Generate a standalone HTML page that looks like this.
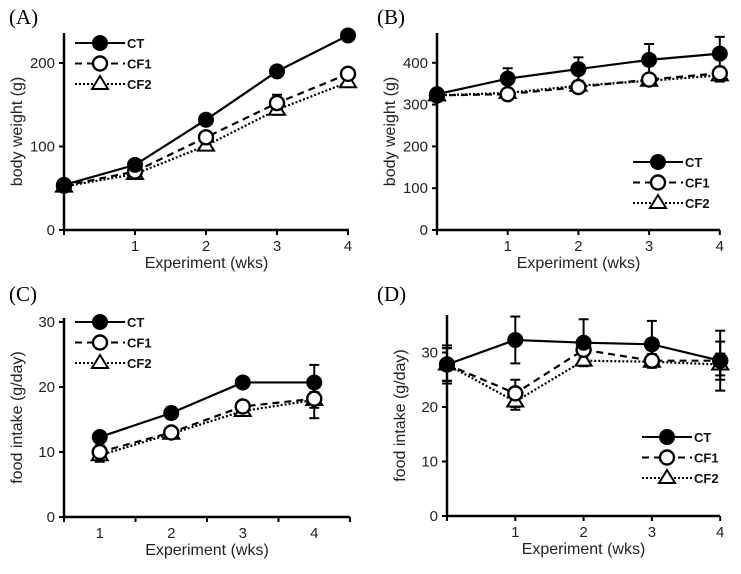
<!DOCTYPE html>
<html><head><meta charset="utf-8"><style>
body{margin:0;background:#fff;width:741px;height:569px;overflow:hidden}
svg{font-family:"Liberation Sans",Arial,sans-serif}
</style></head><body>
<svg id="s" width="741" height="569" xmlns="http://www.w3.org/2000/svg"></svg>
<script>
const seriesNames=["CT","CF1","CF2"];
// Panel A body weight (weeks 0-4)
const aCT=[54,78,132,190,233], aCF1=[53,70,111,152,187], aCF2=[52,67,101,144,177];
const aErrCT=[3,4,5,4,3], aErrCF1=[3,3,6,10,7], aErrCF2=[3,3,5,6,5];
// Panel B body weight
const bCT=[325,362,385,407,422], bCF1=[322,325,342,360,375], bCF2=[322,328,345,357,370];
const bErrCT=[10,25,28,38,40], bErrCF1=[8,10,10,12,15], bErrCF2=[8,10,10,12,15];
// Panel C food intake (weeks 1-4)
const cCT=[12.3,16,20.7,20.7], cCF1=[10,13,17,18.2], cCF2=[9.5,12.8,16.3,18];
const cErrCT=[0.8,0.9,0.6,2.7], cErrCF1=[1,0.8,0.8,3], cErrCF2=[1,0.7,0.6,1.2];
// Panel D food intake (weeks 0-4)
const dCT=[27.8,32.3,31.8,31.5,28.5], dCF1=[27.8,22.5,30.5,28.5,28.5], dCF2=[27.8,21,28.5,28.3,27.8];
const dErrCT=[3.5,4.3,4.3,4.3,5.5], dErrCF1=[3,2.5,1.2,1.2,3.5], dErrCF2=[3,1.5,1,1,2];
const weekLabels=["1","2","3","4"];
const aTicks=[0,100,200], bTicks=[0,100,200,300,400], cTicks=[0,10,20,30], dTicks=[0,10,20,30];

const S=document.getElementById('s');
function el(t,a,txt){const e=document.createElementNS('http://www.w3.org/2000/svg',t);for(const k in a)e.setAttribute(k,a[k]);if(txt!==undefined)e.textContent=txt;S.appendChild(e);return e;}

function panel(p){
  const xs=i=>p.x0+p.xoff*p.step+i*p.step;
  const ys=v=>p.y0-(v-0)*p.k;
  let e;
  e=el('text',{x:p.lx,y:p.ly,'font-family':'Liberation Serif,serif','font-size':21},p.label);
  
  
  e=el('line',{x1:p.x0,y1:p.ytop,x2:p.x0,y2:p.y0,stroke:'#000','stroke-width':2.5});
  
  
  e=el('line',{x1:p.x0,y1:p.y0,x2:p.xend,y2:p.y0,stroke:'#000','stroke-width':2.5});
  
  
  p.ticks.forEach(t=>{
    el('line',{x1:p.x0-5,y1:ys(t),x2:p.x0,y2:ys(t),stroke:'#000','stroke-width':2});
    e=el('text',{x:p.x0-9,y:ys(t)+5,'text-anchor':'end','font-size':15,fill:'#222'},t);
    
    
  });
  for(let i=0;i<=p.nslots;i++){const x=p.x0+i*p.step;el('line',{x1:x,y1:p.y0,x2:x,y2:p.y0+5,stroke:'#000','stroke-width':2});}
  weekLabels.forEach((w,i)=>{
    e=el('text',{x:xs(i+(p.xoff?0:1)),y:p.y0+21,'text-anchor':'middle','font-size':15,fill:'#222'},w);
    
    
  });
  e=el('text',{x:(p.x0+p.xend)/2,y:p.y0+38,'text-anchor':'middle','font-size':16,fill:'#222'},'Experiment (wks)');
  
  
  const cy=(p.ytop+p.y0)/2;
  e=el('text',{x:0,y:0,transform:`translate(${p.x0-42},${cy}) rotate(-90)`,'text-anchor':'middle','font-size':16,fill:'#222'},p.ytitle);
  
  
  const dash=['none','7,5','2,2'];
  p.data.forEach((d,si)=>{d.forEach((v,i)=>{const x=xs(i),er=p.err[si][i];
    el('line',{x1:x,y1:ys(v-er),x2:x,y2:ys(v+er),stroke:'#000','stroke-width':2});
    el('line',{x1:x-5,y1:ys(v+er),x2:x+5,y2:ys(v+er),stroke:'#000','stroke-width':2});
    el('line',{x1:x-5,y1:ys(v-er),x2:x+5,y2:ys(v-er),stroke:'#000','stroke-width':2});
  });});
  p.data.forEach((d,si)=>{
    e=el('polyline',{points:d.map((v,i)=>xs(i)+','+ys(v)).join(' '),fill:'none',stroke:'#000','stroke-width':2.2,'stroke-dasharray':dash[si]});
    
    
  });
  function marker(si,x,y){
    if(si==0)return el('circle',{cx:x,cy:y,r:8,fill:'#000'});
    if(si==1)return el('circle',{cx:x,cy:y,r:7,fill:'#fff',stroke:'#000','stroke-width':2.4});
    return el('path',{d:`M${x},${y-8} L${x+8},${y+5} L${x-8},${y+5} Z`,fill:'#fff',stroke:'#000','stroke-width':2});
  }
  [2,1,0].forEach(si=>p.data[si].forEach((v,i)=>{const m=marker(si,xs(i),ys(v));
    
    }));
  seriesNames.forEach((n,si)=>{const y=p.legy+si*20.5;
    el('line',{x1:p.legx,y1:y,x2:p.legx+50,y2:y,stroke:'#000','stroke-width':2,'stroke-dasharray':dash[si]});
    e=marker(si,p.legx+25,y);
    
    
    e=el('text',{x:p.legx+52,y:y+5,'font-size':13,'font-weight':'bold',fill:'#111'},n);
    
    
  });
}
panel({label:'(A)',lx:9,ly:24,x0:64,xend:349,step:71,xoff:0,nslots:4,y0:230,ytop:33,k:0.835,ticks:aTicks,ytitle:'body weight (g)',
  data:[aCT,aCF1,aCF2],err:[aErrCT,aErrCF1,aErrCF2],legx:75,legy:43});
panel({label:'(B)',lx:377,ly:24,x0:437,xend:720,step:70.7,xoff:0,nslots:4,y0:230,ytop:33,k:0.418,ticks:bTicks,ytitle:'body weight (g)',
  data:[bCT,bCF1,bCF2],err:[bErrCT,bErrCF1,bErrCF2],legx:633,legy:162});
panel({label:'(C)',lx:9,ly:301,x0:64,xend:350,step:71.5,xoff:0.5,nslots:4,y0:517,ytop:318,k:6.5,ticks:cTicks,ytitle:'food intake (g/day)',
  data:[cCT,cCF1,cCF2],err:[cErrCT,cErrCF1,cErrCF2],legx:75,legy:322});
panel({label:'(D)',lx:377,ly:301,x0:447,xend:720,step:68.3,xoff:0,nslots:4,y0:516,ytop:315,k:5.45,ticks:dTicks,ytitle:'food intake (g/day)',
  data:[dCT,dCF1,dCF2],err:[dErrCT,dErrCF1,dErrCF2],legx:642,legy:437});
</script>
</body></html>
